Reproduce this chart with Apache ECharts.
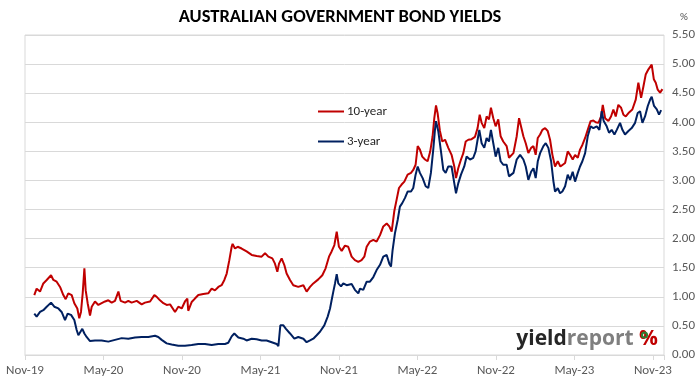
<!DOCTYPE html>
<html>
<head>
<meta charset="utf-8">
<script src="https://cdn.jsdelivr.net/npm/echarts@6/dist/echarts.min.js"></script>
<style>html,body{margin:0;padding:0;background:#fff}#c{width:699px;height:384px}</style>
</head>
<body>
<div id="c"></div>
<script>
// x values are months since 1 Nov 2019; y values are yields in %
const tickLabels = ['Nov-19','May-20','Nov-20','May-21','Nov-21','May-22','Nov-22','May-23','Nov-23'];
const seriesNames = ['10-year','3-year'];

const tenYear = [
[0.71,1.03],[0.89,1.14],[1.15,1.09],[1.40,1.23],[1.66,1.29],[1.99,1.37],[2.17,1.29],[2.42,1.26],[2.68,1.17],[2.93,1.03],
[3.11,0.96],[3.31,1.06],[3.57,1.03],[3.77,0.89],[4.00,0.80],[4.15,0.63],[4.28,0.74],[4.41,1.06],[4.54,1.49],[4.64,1.11],
[4.79,0.89],[4.97,0.68],[5.10,0.83],[5.35,0.92],[5.61,0.86],[5.86,0.89],[6.12,0.92],[6.37,0.94],[6.63,0.90],[6.88,0.93],
[7.14,1.09],[7.31,0.93],[7.65,0.90],[7.90,0.93],[8.15,0.90],[8.54,0.93],[8.92,0.87],[9.17,0.90],[9.56,0.92],[9.89,1.03],
[10.07,1.00],[10.32,0.94],[10.58,0.89],[10.83,0.86],[11.09,0.87],[11.47,0.74],[11.72,0.83],[11.98,0.80],[12.23,0.92],[12.41,0.97],
[12.48,0.76],[12.74,0.91],[12.99,0.97],[13.25,1.03],[13.63,1.05],[14.01,1.06],[14.27,1.14],[14.52,1.11],[14.78,1.17],[15.03,1.20],
[15.24,1.29],[15.42,1.40],[15.62,1.63],[15.80,1.86],[15.87,1.91],[16.05,1.83],[16.26,1.86],[16.56,1.83],[16.94,1.78],[17.33,1.72],
[17.71,1.70],[18.09,1.69],[18.35,1.75],[18.60,1.69],[18.91,1.66],[19.11,1.57],[19.29,1.43],[19.42,1.57],[19.62,1.66],[19.82,1.55],
[20.00,1.40],[20.26,1.29],[20.51,1.20],[20.89,1.17],[21.28,1.20],[21.53,1.09],[21.79,1.17],[22.04,1.23],[22.42,1.30],[22.73,1.37],
[22.98,1.49],[23.24,1.69],[23.44,1.78],[23.65,1.89],[23.83,2.12],[24.00,1.86],[24.21,1.79],[24.46,1.88],[24.71,1.86],[24.97,1.69],
[25.22,1.63],[25.48,1.60],[25.73,1.63],[25.94,1.69],[26.12,1.86],[26.37,1.95],[26.63,1.98],[26.88,1.95],[27.14,2.06],[27.39,2.21],
[27.65,2.26],[27.85,2.21],[28.03,2.12],[28.23,2.47],[28.41,2.67],[28.59,2.87],[28.79,2.93],[29.00,2.98],[29.25,3.10],[29.51,3.13],
[29.68,3.18],[29.86,3.27],[30.02,3.59],[30.19,3.53],[30.37,3.41],[30.58,3.36],[30.78,3.33],[30.98,3.50],[31.16,3.76],[31.29,4.07],
[31.42,4.29],[31.54,4.16],[31.72,3.85],[31.90,3.67],[32.11,3.70],[32.36,3.56],[32.61,3.44],[32.82,3.24],[32.95,3.04],[33.12,3.21],
[33.33,3.36],[33.51,3.47],[33.69,3.67],[33.89,3.70],[34.14,3.71],[34.40,3.75],[34.60,3.90],[34.76,4.13],[34.91,3.99],[35.11,3.90],
[35.29,4.10],[35.47,4.05],[35.62,4.25],[35.80,4.07],[35.98,3.93],[36.18,4.05],[36.36,3.76],[36.56,3.67],[36.82,3.59],[37.00,3.39],
[37.34,3.47],[37.59,3.76],[37.77,4.07],[37.92,4.05],[38.10,3.76],[38.28,3.64],[38.48,3.47],[38.69,3.56],[38.87,3.59],[39.04,3.44],
[39.20,3.73],[39.38,3.79],[39.55,3.87],[39.76,3.90],[39.96,3.85],[40.14,3.70],[40.32,3.44],[40.52,3.24],[40.73,3.33],[40.93,3.24],
[41.08,3.21],[41.29,3.30],[41.49,3.50],[41.67,3.44],[41.87,3.36],[42.05,3.44],[42.26,3.39],[42.43,3.53],[42.61,3.61],[42.82,3.73],
[43.02,3.87],[43.24,4.02],[43.45,4.03],[43.63,4.00],[43.84,3.99],[44.04,4.10],[44.17,4.30],[44.35,4.07],[44.60,4.02],[44.80,4.10],
[44.98,4.22],[45.16,4.10],[45.36,4.30],[45.57,4.25],[45.75,4.13],[45.93,4.10],[46.18,4.17],[46.43,4.22],[46.69,4.39],[46.89,4.68],
[47.10,4.42],[47.28,4.62],[47.45,4.82],[47.66,4.91],[47.91,4.99],[48.07,4.74],[48.22,4.68],[48.37,4.56],[48.55,4.51],[48.73,4.57]
];

const threeYear = [
[0.71,0.71],[0.89,0.66],[1.15,0.74],[1.40,0.77],[1.66,0.83],[1.99,0.90],[2.24,0.83],[2.55,0.80],[2.80,0.74],[3.06,0.60],
[3.26,0.71],[3.52,0.69],[3.77,0.60],[3.95,0.43],[4.08,0.34],[4.20,0.37],[4.38,0.45],[4.54,0.37],[4.71,0.31],[4.97,0.24],
[5.35,0.25],[5.86,0.25],[6.37,0.23],[6.88,0.26],[7.39,0.29],[7.90,0.28],[8.41,0.30],[8.92,0.31],[9.43,0.31],[9.94,0.33],
[10.19,0.31],[10.45,0.26],[10.83,0.20],[11.21,0.18],[11.72,0.16],[12.23,0.16],[12.74,0.17],[13.25,0.19],[13.76,0.19],[14.27,0.17],
[14.78,0.19],[15.29,0.19],[15.54,0.21],[15.80,0.32],[16.00,0.37],[16.31,0.30],[16.69,0.28],[16.94,0.25],[17.33,0.28],[17.71,0.27],
[18.09,0.25],[18.47,0.25],[18.86,0.22],[19.24,0.19],[19.37,0.15],[19.52,0.51],[19.75,0.51],[19.95,0.45],[20.26,0.37],[20.59,0.28],
[20.89,0.31],[21.28,0.28],[21.53,0.22],[21.79,0.25],[22.04,0.28],[22.30,0.34],[22.55,0.40],[22.88,0.51],[23.14,0.66],[23.32,0.80],
[23.44,0.94],[23.57,1.09],[23.70,1.23],[23.83,1.39],[23.95,1.23],[24.16,1.18],[24.33,1.23],[24.59,1.20],[24.71,1.17],[24.97,1.22],
[25.22,1.12],[25.48,1.06],[25.61,1.14],[25.86,1.12],[26.12,1.26],[26.37,1.26],[26.63,1.34],[26.88,1.46],[27.14,1.55],[27.39,1.69],
[27.65,1.72],[27.85,1.57],[27.98,1.52],[28.10,1.80],[28.28,2.09],[28.49,2.32],[28.66,2.55],[28.84,2.61],[29.05,2.70],[29.25,2.81],
[29.51,2.81],[29.68,2.87],[29.86,3.10],[30.02,3.24],[30.19,3.13],[30.40,3.04],[30.63,2.90],[30.83,2.87],[31.03,3.13],[31.21,3.53],
[31.34,3.87],[31.42,4.02],[31.60,3.84],[31.80,3.50],[31.98,3.18],[32.16,3.13],[32.36,3.24],[32.61,3.24],[32.82,2.95],[32.95,2.78],
[33.12,2.95],[33.33,3.10],[33.58,3.24],[33.76,3.41],[34.02,3.36],[34.27,3.39],[34.45,3.50],[34.60,3.70],[34.73,3.87],[34.91,3.64],
[35.11,3.56],[35.29,3.73],[35.47,3.67],[35.62,3.87],[35.80,3.64],[35.98,3.41],[36.18,3.56],[36.36,3.33],[36.56,3.27],[36.82,3.27],
[37.00,3.07],[37.34,3.13],[37.59,3.36],[37.85,3.44],[38.10,3.36],[38.28,3.24],[38.48,3.01],[38.69,3.15],[38.87,3.21],[39.04,3.04],
[39.20,3.33],[39.38,3.47],[39.63,3.59],[39.81,3.64],[40.01,3.56],[40.22,3.33],[40.40,2.98],[40.52,2.81],[40.73,2.87],[40.90,2.78],
[41.08,2.81],[41.29,2.90],[41.49,3.10],[41.67,3.01],[41.87,3.15],[42.05,2.98],[42.26,3.13],[42.43,3.24],[42.61,3.33],[42.82,3.47],
[43.02,3.76],[43.24,3.93],[43.45,3.90],[43.71,3.93],[43.91,3.87],[44.09,4.19],[44.24,4.02],[44.47,3.93],[44.65,3.82],[44.85,3.87],
[45.06,3.79],[45.24,3.87],[45.49,3.99],[45.67,3.87],[45.87,3.79],[46.13,3.85],[46.38,3.90],[46.64,3.99],[46.84,4.16],[47.02,4.19],
[47.20,3.99],[47.40,4.10],[47.61,4.28],[47.79,4.39],[47.91,4.44],[48.09,4.28],[48.30,4.22],[48.47,4.13],[48.63,4.21]
];

const FONT = 'Carlito, "Liberation Sans", Arial, sans-serif';
const LOGO_FONT = '"Open Sans", "Liberation Sans", sans-serif';
const chart = echarts.init(document.getElementById('c'), null, {renderer: 'canvas'});
chart.setOption({
  animation: false,
  backgroundColor: '#ffffff',
  textStyle: {fontFamily: FONT},
  grid: {left: 25, right: 35, top: 35, bottom: 29, show: true, borderColor: '#d9d9d9', borderWidth: 1, containLabel: false},
  graphic: [
    {type: 'text', x: 340, y: 17, style: {text: 'AUSTRALIAN GOVERNMENT BOND YIELDS', font: 'bold 18.5px ' + FONT, fill: '#000', textAlign: 'center', textVerticalAlign: 'middle'}},
    {type: 'text', x: 684, y: 17, style: {text: '%', font: '11px ' + FONT, fill: '#595959', textAlign: 'center', textVerticalAlign: 'middle'}},
    {type: 'text', x: 658, y: 339, z: 10, style: {
      text: '{a|yield}{b|report}{c| %}', textAlign: 'right', textVerticalAlign: 'middle',
      rich: {
        a: {font: 'bold 21px ' + LOGO_FONT, fill: '#262626'},
        b: {font: 'bold 21px ' + LOGO_FONT, fill: '#7f7f7f'},
        c: {font: 'bold 21px ' + LOGO_FONT, fill: '#c00000'}
      }
    }},
    {type: 'ring', z: 11, shape: {cx: 644.5, cy: 335, r: 3.6, r0: 1.5}, style: {fill: '#2e7d32'}}
  ],
  legend: {
    data: seriesNames, orient: 'vertical', left: 313, top: 100, itemGap: 17,
    icon: 'rect', itemWidth: 26, itemHeight: 2,
    textStyle: {fontSize: 13, color: '#262626', fontFamily: FONT, padding: [0, 0, 0, -2]}
  },
  xAxis: {
    type: 'value', min: 0, max: 48.85, interval: 6,
    axisLine: {show: true, lineStyle: {color: '#d9d9d9'}},
    axisTick: {show: true, length: 5, lineStyle: {color: '#d9d9d9'}},
    splitLine: {show: false},
    axisLabel: {
      color: '#595959', fontSize: 13, margin: 9, fontFamily: FONT,
      formatter: v => { const i = Math.round(v / 6); return Math.abs(v - i * 6) < 1e-6 ? (tickLabels[i] || '') : ''; }
    }
  },
  yAxis: {
    type: 'value', position: 'right', min: 0, max: 5.5, interval: 0.5,
    axisLine: {show: false}, axisTick: {show: false},
    splitLine: {show: true, lineStyle: {color: '#d9d9d9'}},
    axisLabel: {color: '#595959', fontSize: 13, margin: 8, fontFamily: FONT, formatter: v => v.toFixed(2)}
  },
  series: [
    {name: seriesNames[0], type: 'line', data: tenYear, showSymbol: false, symbol: 'none', lineStyle: {color: '#c00000', width: 2}, itemStyle: {color: '#c00000'}},
    {name: seriesNames[1], type: 'line', data: threeYear, showSymbol: false, symbol: 'none', lineStyle: {color: '#002060', width: 2}, itemStyle: {color: '#002060'}}
  ]
});
</script>
</body>
</html>
